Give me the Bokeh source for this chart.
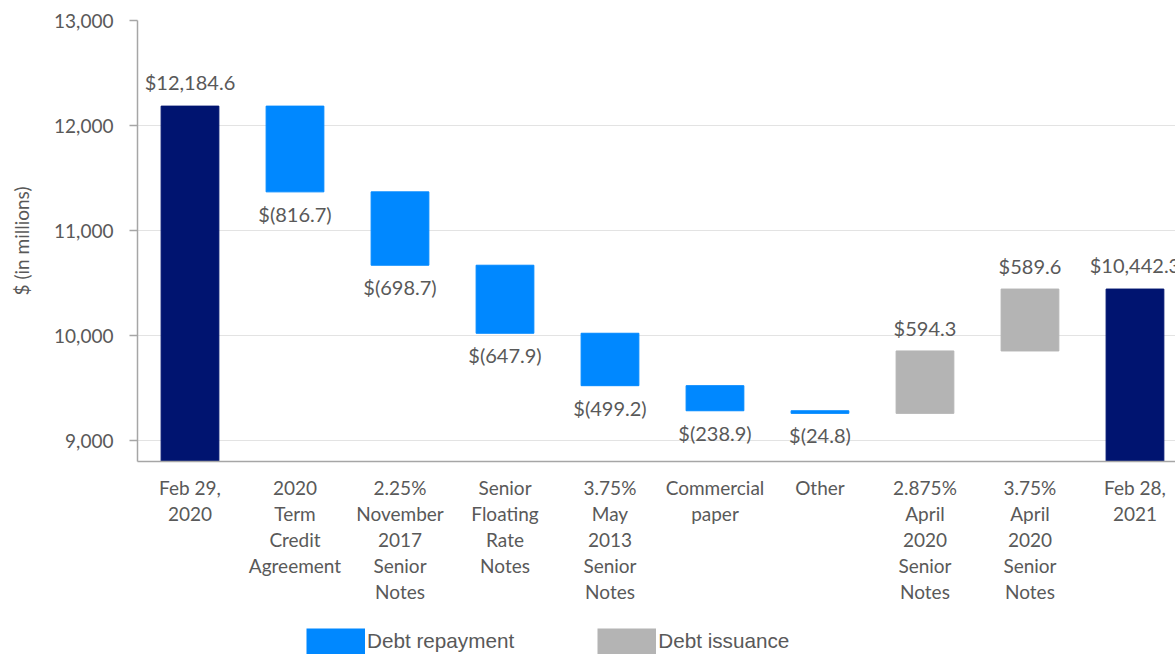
from bokeh.plotting import figure
from bokeh.layouts import column
from bokeh.models import ColumnDataSource, Range1d, FixedTicker, NumeralTickFormatter, Legend, LegendItem
from bokeh.embed import file_html
from bokeh.resources import INLINE
from bokeh.core.properties import value

# ---------------- data ----------------
categories = [
    "Feb 29,\n2020",
    "2020\nTerm\nCredit\nAgreement",
    "2.25%\nNovember\n2017\nSenior\nNotes",
    "Senior\nFloating\nRate\nNotes",
    "3.75%\nMay\n2013\nSenior\nNotes",
    "Commercial\npaper",
    "Other",
    "2.875%\nApril\n2020\nSenior\nNotes",
    "3.75%\nApril\n2020\nSenior\nNotes",
    "Feb 28,\n2021",
]
kinds = ["total", "repay", "repay", "repay", "repay", "repay", "repay", "issue", "issue", "total"]
amounts = [12184.6, -816.7, -698.7, -647.9, -499.2, -238.9, -24.8, 594.3, 589.6, 10442.3]
y_ticks = [9000, 10000, 11000, 12000, 13000]
legend_names = ["Debt repayment", "Debt issuance"]

# ---------------- styles ----------------
NAVY = "#001470"
BLUE = "#0088FF"
GRAY = "#B4B4B4"
TXT = "#595959"
AX = "#A6A6A6"
color_of = {"total": NAVY, "repay": BLUE, "issue": GRAY}

# ---------------- waterfall geometry ----------------
xs, bottoms, tops, colors, texts, label_y, label_off = [], [], [], [], [], [], []
running = 0.0
for i, (k, a) in enumerate(zip(kinds, amounts)):
    xs.append(i)
    if k == "total":
        b, t = 0.0, a
        running = a
        texts.append("${:,.1f}".format(a))
        label_y.append(t)
        label_off.append(-24)
    else:
        start = running
        running = running + a
        b, t = min(start, running), max(start, running)
        if a < 0:
            texts.append("$({:,.1f})".format(-a))
            label_y.append(b)
            label_off.append(22)
        else:
            texts.append("${:,.1f}".format(a))
            label_y.append(t)
            label_off.append(-23)
    bottoms.append(b)
    tops.append(t)
    colors.append(color_of[k])

src = ColumnDataSource(dict(x=xs, bottom=bottoms, top=tops, color=colors))
lab = ColumnDataSource(dict(x=xs, y=label_y, text=texts, off=label_off))

p = figure(width=1175, height=620, output_backend="svg", toolbar_location=None,
           x_range=Range1d(-0.5, 9.386), y_range=Range1d(8800, 13000),
           min_border_left=137, min_border_right=0, min_border_top=20, min_border_bottom=159)
p.outline_line_color = None
p.background_fill_color = "white"
p.border_fill_color = "white"

p.vbar(x="x", bottom="bottom", top="top", width=0.55, color="color", source=src)
p.text(x="x", y="y", text="text", y_offset="off", source=lab,
       text_align="center", text_baseline="middle",
       text_font=value("Lato"), text_font_size="20px", text_color=TXT)

# grid
p.xgrid.visible = False
p.ygrid.grid_line_color = "#E3E3E3"
p.ygrid.grid_line_width = 1

# y axis
p.yaxis.ticker = FixedTicker(ticks=y_ticks)
p.yaxis.formatter = NumeralTickFormatter(format="0,0")
p.yaxis.axis_line_color = AX
p.yaxis.axis_line_width = 1.5
p.yaxis.major_tick_line_color = AX
p.yaxis.major_tick_line_width = 1.5
p.yaxis.major_tick_out = 8
p.yaxis.major_tick_in = 0
p.yaxis.minor_tick_line_color = None
p.yaxis.major_label_text_font = "Lato"
p.yaxis.major_label_text_font_size = "19px"
p.yaxis.major_label_text_color = TXT
p.yaxis.major_label_standoff = 16
p.yaxis.axis_label = "$ (in millions)"
p.yaxis.axis_label_text_font = "Lato"
p.yaxis.axis_label_text_font_size = "19px"
p.yaxis.axis_label_text_font_style = "normal"
p.yaxis.axis_label_text_color = TXT
p.yaxis.axis_label_standoff = 18

# x axis
p.xaxis.ticker = FixedTicker(ticks=list(range(len(categories))))
p.xaxis.major_label_overrides = {i: c for i, c in enumerate(categories)}
p.xaxis.axis_line_color = AX
p.xaxis.axis_line_width = 1.5
p.xaxis.major_tick_line_color = None
p.xaxis.minor_tick_line_color = None
p.xaxis.major_tick_out = 0
p.xaxis.major_tick_in = 0
p.xaxis.major_label_text_font = "Lato"
p.xaxis.major_label_text_font_size = "19px"
p.xaxis.major_label_text_color = TXT
p.xaxis.major_label_text_line_height = 1.14
p.xaxis.major_label_standoff = 14

# ---------------- legend strip (separate figure so it is not clipped) ----------------
q = figure(width=1175, height=35, output_backend="svg", toolbar_location=None,
           x_range=Range1d(0, 1), y_range=Range1d(0, 1),
           x_axis_location=None, y_axis_location=None,
           min_border_left=0, min_border_right=0, min_border_top=0, min_border_bottom=0)
q.outline_line_color = None
q.xgrid.visible = False
q.ygrid.visible = False
r_rep = q.line(x=[float("nan")], y=[float("nan")], line_color=BLUE, line_width=26)
r_iss = q.line(x=[float("nan")], y=[float("nan")], line_color=GRAY, line_width=26)

lg = Legend(items=[LegendItem(label=legend_names[0], renderers=[r_rep]),
                   LegendItem(label=legend_names[1], renderers=[r_iss])],
            location=(169, 1), orientation="horizontal",
            glyph_width=59, glyph_height=26, label_standoff=2,
            padding=0, margin=0, spacing=83, border_line_color=None,
            background_fill_alpha=0, label_text_font="Liberation Sans",
            label_text_font_size="20.7px", label_text_color=TXT, label_height=26)
q.add_layout(lg, "center")

open("out.html", "w").write(file_html(column(p, q, spacing=0), INLINE))
